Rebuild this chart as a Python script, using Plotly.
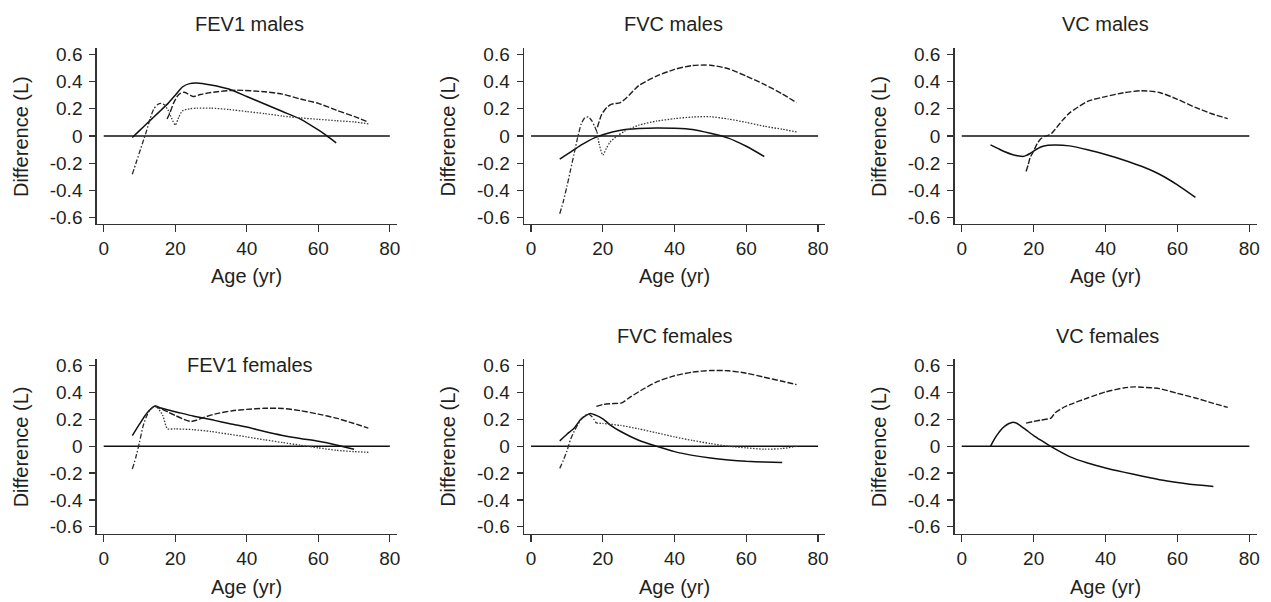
import plotly.graph_objects as go

# ---------------- data ----------------
# FEV1 males
fev1_m_solid_age = [8, 10, 12, 14, 16, 18, 20, 22, 24, 26, 30, 35, 40, 45, 50, 55, 60, 62.5, 65]
fev1_m_solid = [-0.01, 0.04, 0.09, 0.14, 0.19, 0.24, 0.30, 0.36, 0.385, 0.39, 0.375, 0.345, 0.29, 0.235, 0.18, 0.125, 0.045, 0.0, -0.05]
fev1_m_early_age = [8, 9, 10, 11, 12, 13, 14, 15, 16, 17]
fev1_m_early = [-0.28, -0.20, -0.12, -0.04, 0.04, 0.13, 0.20, 0.23, 0.24, 0.23]
fev1_m_dot_age = [17, 18, 19, 20, 21, 22, 24, 26, 30, 35, 40, 45, 50, 55, 60, 65, 70, 74]
fev1_m_dot = [0.23, 0.19, 0.13, 0.08, 0.14, 0.185, 0.20, 0.205, 0.205, 0.195, 0.18, 0.165, 0.147, 0.133, 0.123, 0.113, 0.104, 0.09]
fev1_m_dash_age = [17.7, 18.5, 19.5, 20.5, 21.5, 22.5, 23.5, 25, 27, 30, 37, 45, 50, 55, 60, 65, 70, 74]
fev1_m_dash = [0.125, 0.17, 0.24, 0.29, 0.315, 0.322, 0.31, 0.29, 0.305, 0.32, 0.337, 0.325, 0.308, 0.272, 0.24, 0.19, 0.144, 0.103]

# FVC males
fvc_m_solid_age = [8, 10, 12, 14, 16, 18, 20, 25, 30, 35, 40, 45, 50, 55, 60, 65]
fvc_m_solid = [-0.17, -0.135, -0.10, -0.065, -0.035, -0.01, 0.01, 0.043, 0.055, 0.06, 0.057, 0.048, 0.02, -0.015, -0.075, -0.15]
fvc_m_early_age = [8, 9, 10, 11, 12, 13, 14, 15, 16, 17, 18.4]
fvc_m_early = [-0.57, -0.48, -0.37, -0.25, -0.13, -0.01, 0.09, 0.135, 0.14, 0.11, 0.03]
fvc_m_dot_age = [18.4, 19, 20, 21, 22, 24, 26, 30, 35, 40, 45, 50, 55, 60, 65, 70, 74]
fvc_m_dot = [0.03, -0.06, -0.14, -0.09, -0.045, 0.0, 0.035, 0.08, 0.11, 0.128, 0.14, 0.142, 0.125, 0.10, 0.072, 0.05, 0.031]
fvc_m_dash_age = [18.5, 19.7, 21.1, 22.5, 24.9, 26.7, 30, 35, 40, 45, 50, 55, 60, 65, 70, 74]
fvc_m_dash = [0.065, 0.16, 0.21, 0.234, 0.246, 0.283, 0.37, 0.44, 0.49, 0.518, 0.52, 0.494, 0.44, 0.38, 0.31, 0.245]

# VC males
vc_m_solid_age = [8, 10, 12, 14, 16, 17, 18, 19, 20, 22, 24, 26, 30, 35, 40, 45, 50, 55, 60, 65]
vc_m_solid = [-0.065, -0.09, -0.115, -0.135, -0.147, -0.15, -0.142, -0.128, -0.11, -0.08, -0.068, -0.065, -0.072, -0.10, -0.135, -0.175, -0.222, -0.28, -0.358, -0.45]
vc_m_dash_age = [17.9, 18.5, 19, 20, 21, 22, 23, 24, 25, 26, 28, 30, 35, 40, 45, 50, 55, 60, 65, 70, 74]
vc_m_dash = [-0.26, -0.21, -0.16, -0.11, -0.055, -0.02, -0.003, 0.005, 0.02, 0.05, 0.115, 0.17, 0.255, 0.29, 0.318, 0.333, 0.32, 0.27, 0.21, 0.16, 0.128]

# FEV1 females
fev1_f_solid_age = [8, 10, 12, 14.3, 16, 18, 20, 25, 31, 35, 40, 45, 50, 55, 60, 65, 70]
fev1_f_solid = [0.08, 0.165, 0.245, 0.30, 0.285, 0.27, 0.258, 0.225, 0.193, 0.17, 0.143, 0.11, 0.081, 0.058, 0.037, 0.01, -0.022]
fev1_f_early_age = [8, 9, 10, 11, 12, 13, 14.3]
fev1_f_early = [-0.17, -0.08, 0.03, 0.15, 0.225, 0.275, 0.30]
fev1_f_dot_age = [14.3, 15, 16.5, 17.8, 20, 25, 30, 35, 40, 45, 50, 55, 60, 65, 70, 74]
fev1_f_dot = [0.30, 0.29, 0.23, 0.131, 0.13, 0.124, 0.11, 0.09, 0.07, 0.048, 0.028, 0.008, -0.012, -0.03, -0.04, -0.045]
fev1_f_dash_age = [14.3, 16, 18, 20, 22, 24.4, 26, 28, 31, 36, 40, 45, 50, 55, 60, 65, 70, 74]
fev1_f_dash = [0.30, 0.28, 0.255, 0.23, 0.205, 0.185, 0.195, 0.215, 0.24, 0.265, 0.275, 0.283, 0.282, 0.265, 0.24, 0.21, 0.17, 0.135]

# FVC females
fvc_f_solid_age = [8, 10, 12, 14, 16.5, 18, 20, 22, 25, 30, 35, 40, 45, 50, 55, 60, 65, 70]
fvc_f_solid = [0.04, 0.09, 0.135, 0.205, 0.244, 0.232, 0.205, 0.16, 0.11, 0.045, 0.0, -0.04, -0.068, -0.088, -0.102, -0.112, -0.118, -0.121]
fvc_f_early_age = [8, 9, 10, 11, 12, 13, 14, 15, 16, 17, 18.2]
fvc_f_early = [-0.165, -0.105, -0.035, 0.05, 0.11, 0.16, 0.20, 0.228, 0.24, 0.22, 0.173]
fvc_f_dot_age = [18.2, 20, 25, 30, 35, 40, 45, 50, 55, 60, 65, 70, 74]
fvc_f_dot = [0.173, 0.17, 0.155, 0.13, 0.1, 0.07, 0.043, 0.02, 0.0, -0.012, -0.022, -0.017, 0.0]
fvc_f_dash_age = [18.2, 20.2, 22.5, 25.3, 27.6, 31.3, 35, 40, 45, 50, 55, 60, 65, 70, 74]
fvc_f_dash = [0.298, 0.312, 0.318, 0.324, 0.366, 0.427, 0.48, 0.526, 0.553, 0.565, 0.563, 0.545, 0.515, 0.485, 0.46]

# VC females
vc_f_solid_age = [8, 9, 10, 11, 12, 13, 14, 15, 16, 18, 20, 22, 25, 30, 35, 40, 45, 50, 55, 60, 65, 70]
vc_f_solid = [0.0, 0.05, 0.09, 0.125, 0.15, 0.168, 0.178, 0.175, 0.16, 0.12, 0.08, 0.045, -0.005, -0.077, -0.125, -0.162, -0.193, -0.222, -0.249, -0.27, -0.288, -0.30]
vc_f_dash_age = [17.9, 20, 22, 24.8, 26, 28, 30, 35, 40, 45, 48, 50, 55, 60, 65, 70, 74]
vc_f_dash = [0.173, 0.185, 0.195, 0.21, 0.25, 0.285, 0.31, 0.36, 0.405, 0.435, 0.443, 0.44, 0.43, 0.395, 0.36, 0.32, 0.29]

titles = ["FEV1 males", "FVC males", "VC males", "FEV1 females", "FVC females", "VC females"]
x_ticks = [0, 20, 40, 60, 80]
y_ticks = [-0.6, -0.4, -0.2, 0, 0.2, 0.4, 0.6]
y_tick_text = ["-0.6", "-0.4", "-0.2", "0", "0.2", "0.4", "0.6"]
x_label = "Age (yr)"
y_label = "Difference (L)"

# ---------------- layout geometry ----------------
W, H = 1271, 602
col_px = [(96.8, 397.9), (525.1, 827.2), (956.8, 1259.5)]
row_px = [(44.8, 222.9), (359.9, 536.8)]   # top, bottom in pixels from top
title_y_px = [20, 20, 20, 366, 336, 336]
title_x_px = [250, 675, 1108.5, 250.5, 676.5, 1110]
ylab_x_px = [21, 449.5, 881]
xlab_y_px = [276, 591]

FONT = "Liberation Sans, Arial, Helvetica, sans-serif"
INK = "#231f20"

panels = [
    [(fev1_m_solid_age, fev1_m_solid, "solid"), (fev1_m_early_age, fev1_m_early, "early"),
     (fev1_m_dot_age, fev1_m_dot, "dot"), (fev1_m_dash_age, fev1_m_dash, "dash")],
    [(fvc_m_solid_age, fvc_m_solid, "solid"), (fvc_m_early_age, fvc_m_early, "early"),
     (fvc_m_dot_age, fvc_m_dot, "dot"), (fvc_m_dash_age, fvc_m_dash, "dash")],
    [(vc_m_solid_age, vc_m_solid, "solid"), (vc_m_dash_age, vc_m_dash, "dash")],
    [(fev1_f_solid_age, fev1_f_solid, "solid"), (fev1_f_early_age, fev1_f_early, "early"),
     (fev1_f_dot_age, fev1_f_dot, "dot"), (fev1_f_dash_age, fev1_f_dash, "dash")],
    [(fvc_f_solid_age, fvc_f_solid, "solid"), (fvc_f_early_age, fvc_f_early, "early"),
     (fvc_f_dot_age, fvc_f_dot, "dot"), (fvc_f_dash_age, fvc_f_dash, "dash")],
    [(vc_f_solid_age, vc_f_solid, "solid"), (vc_f_dash_age, vc_f_dash, "dash")],
]

dash_map = {"solid": "solid", "dash": "6px,2px", "dot": "1.5px,1.5px", "early": "5px,2px,1.5px,2px"}
width_map = {"solid": 1.5, "dash": 1.4, "dot": 1.3, "early": 1.3}
color_map = {"solid": "#111111", "dash": "#1e1e1e", "dot": "#3a3a3a", "early": "#2a2a2a"}

fig = go.Figure()
layout = dict(
    width=W, height=H, margin=dict(l=0, r=0, t=0, b=0),
    paper_bgcolor="white", plot_bgcolor="white", showlegend=False,
    font=dict(family=FONT, color=INK),
)
annotations = []

for i, series in enumerate(panels):
    r, c = divmod(i, 3)
    sfx = "" if i == 0 else str(i + 1)
    xa, ya = "x" + sfx, "y" + sfx
    x0, x1 = col_px[c]
    yt, yb = row_px[r]
    yr = [-0.645, 0.645] if r == 0 else [-0.652, 0.65]
    layout["xaxis" + sfx] = dict(
        domain=[x0 / W, x1 / W], anchor=ya, range=[-2, 82],
        tickvals=x_ticks, ticks="outside", ticklen=7, tickwidth=1.3, tickcolor="#333",
        showline=True, linecolor="#333", linewidth=1.3, showgrid=False, zeroline=False,
        tickfont=dict(size=19, family=FONT, color=INK), ticklabelstandoff=0,
    )
    layout["yaxis" + sfx] = dict(
        domain=[1 - yb / H, 1 - yt / H], anchor=xa, range=yr,
        tickvals=y_ticks, ticktext=y_tick_text, ticks="outside", ticklen=6, tickwidth=1.3,
        tickcolor="#333", showline=True, linecolor="#333", linewidth=1.3,
        showgrid=False, zeroline=False,
        tickfont=dict(size=19, family=FONT, color=INK), ticklabelstandoff=3,
    )
    # zero reference line
    fig.add_trace(go.Scatter(x=[0, 80], y=[0, 0], mode="lines", xaxis=xa, yaxis=ya,
                             line=dict(color="#111", width=1.4), hoverinfo="skip"))
    for ages, vals, style in series:
        fig.add_trace(go.Scatter(
            x=ages, y=vals, mode="lines", xaxis=xa, yaxis=ya,
            line=dict(color=color_map[style], width=width_map[style], dash=dash_map[style],
                      shape="spline", smoothing=0.6),
        ))
    annotations.append(dict(text=titles[i], xref="paper", yref="paper",
                            x=title_x_px[i] / W, y=1 - title_y_px[i] / H,
                            xanchor="center", yanchor="middle", showarrow=False,
                            font=dict(size=20, family=FONT, color=INK)))
    annotations.append(dict(text=y_label, xref="paper", yref="paper", textangle=-90,
                            x=ylab_x_px[c] / W, y=1 - ((yt + yb) / 2) / H,
                            xanchor="center", yanchor="middle", showarrow=False,
                            font=dict(size=20, family=FONT, color=INK)))
    annotations.append(dict(text=x_label, xref="paper", yref="paper",
                            x=((x0 + x1) / 2) / W, y=1 - xlab_y_px[r] / H,
                            xanchor="center", yanchor="middle", showarrow=False,
                            font=dict(size=20, family=FONT, color=INK)))

layout["annotations"] = annotations
fig.update_layout(**layout)
fig.write_html("out.html", config={"displayModeBar": False, "staticPlot": True})

# remove the browser's default body margin so the 1271x602 figure fills the window exactly
with open("out.html", "r", encoding="utf-8") as f:
    html = f.read()
html = html.replace("<head>", "<head><style>html,body{margin:0;padding:0;overflow:hidden;}</style>", 1)
with open("out.html", "w", encoding="utf-8") as f:
    f.write(html)
